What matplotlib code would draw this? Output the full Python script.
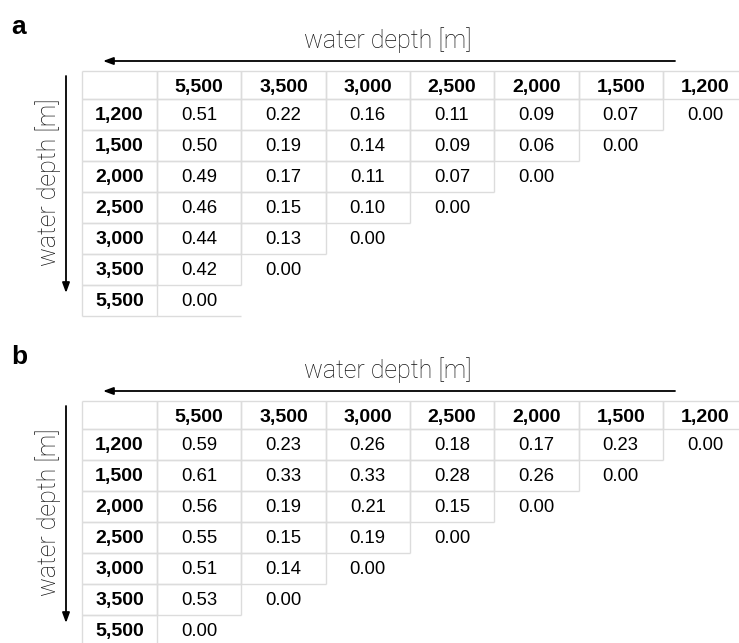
import matplotlib
matplotlib.use("Agg")
import matplotlib.pyplot as plt

# depths: rows top to bottom, columns left to right
row_labels = ["1,200", "1,500", "2,000", "2,500", "3,000", "3,500", "5,500"]
col_labels = ["5,500", "3,500", "3,000", "2,500", "2,000", "1,500", "1,200"]

# panel a, one list per row (lower triangle is empty)
vals_a = [
    [0.51, 0.22, 0.16, 0.11, 0.09, 0.07, 0.00],
    [0.50, 0.19, 0.14, 0.09, 0.06, 0.00],
    [0.49, 0.17, 0.11, 0.07, 0.00],
    [0.46, 0.15, 0.10, 0.00],
    [0.44, 0.13, 0.00],
    [0.42, 0.00],
    [0.00],
]

# panel b
vals_b = [
    [0.59, 0.23, 0.26, 0.18, 0.17, 0.23, 0.00],
    [0.61, 0.33, 0.33, 0.28, 0.26, 0.00],
    [0.56, 0.19, 0.21, 0.15, 0.00],
    [0.55, 0.15, 0.19, 0.00],
    [0.51, 0.14, 0.00],
    [0.53, 0.00],
    [0.00],
]

W, H = 739, 643
fig = plt.figure(figsize=(W / 100, H / 100), dpi=100)
ax = fig.add_axes([0, 0, 1, 1])
ax.set_xlim(0, W)
ax.set_ylim(H, 0)
ax.axis("off")

grid_col = "#dcdcdc"
label_font = "Liberation Sans"
light = dict(family=["Roboto", "DejaVu Sans"], fontweight="light")

# column edges (pixels) and row edges
xs = [82, 157] + [157 + 84.3 * k for k in range(1, 8)]
hdr_h = 28
row_h = 31


def seg(x1, y1, x2, y2):
    ax.plot([x1, x2], [y1, y2], color=grid_col, lw=1.0, solid_capstyle="butt")


def cell_box(x1, x2, y1, y2):
    seg(x1, y1, x2, y1)
    seg(x1, y2, x2, y2)
    seg(x1, y1, x1, y2)
    seg(x2, y1, x2, y2)


def draw_panel(top, vals, letter):
    ys = [top, top + hdr_h] + [top + hdr_h + row_h * k for k in range(1, 8)]

    ax.text(11, top - 44, letter, fontsize=19, fontweight="bold",
            family=label_font, ha="left", va="center")

    # axis titles with arrows
    ax.text(388, top - 31, "water depth [m]", fontsize=18, ha="center",
            va="center", color="#111111", **light)
    ax.annotate("", xy=(103, top - 10), xytext=(675, top - 10),
                arrowprops=dict(arrowstyle="-|>,head_length=0.6,head_width=0.22",
                                color="black", lw=1.3, mutation_scale=10,
                                shrinkA=0, shrinkB=0))
    ax.text(48, top + 111, "water depth [m]", fontsize=18, ha="center",
            va="center", rotation=90, color="#111111", **light)
    ax.annotate("", xy=(66, top + 222), xytext=(66, top + 5),
                arrowprops=dict(arrowstyle="-|>,head_length=0.6,head_width=0.22",
                                color="black", lw=1.3, mutation_scale=10,
                                shrinkA=0, shrinkB=0))

    # header row
    for j in range(8):
        cell_box(xs[j], xs[j + 1], ys[0], ys[1])
    for j, lab in enumerate(col_labels):
        ax.text((xs[j + 1] + xs[j + 2]) / 2, (ys[0] + ys[1]) / 2 + 2.5, lab,
                fontsize=14, fontweight="bold", family=label_font,
                ha="center", va="center")

    # body rows
    nrows = len(row_labels)
    for i, lab in enumerate(row_labels):
        y1, y2 = ys[i + 1], ys[i + 2]
        yc = (y1 + y2) / 2 + 1
        row = vals[i]
        cell_box(xs[0], xs[1], y1, y2)
        for j in range(len(row) - 1):
            cell_box(xs[j + 1], xs[j + 2], y1, y2)
        if i == nrows - 1:
            seg(xs[1], y2, xs[len(row) + 1], y2)
        ax.text((xs[0] + xs[1]) / 2, yc, lab, fontsize=14, fontweight="bold",
                family=label_font, ha="center", va="center")
        for j, v in enumerate(row):
            ax.text((xs[j + 1] + xs[j + 2]) / 2, yc, "%.2f" % v, fontsize=13.3,
                    family=label_font, ha="center", va="center")


draw_panel(71, vals_a, "a")
draw_panel(401, vals_b, "b")

fig.savefig("out.png", dpi=100)
